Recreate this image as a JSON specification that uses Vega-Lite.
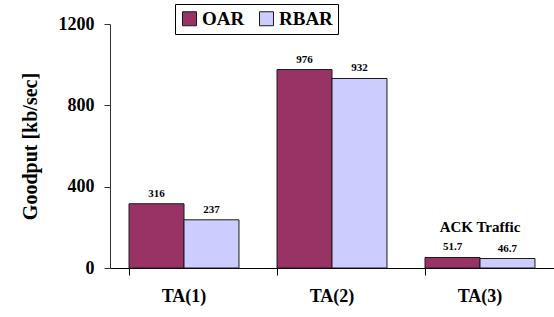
{
  "$schema": "https://vega.github.io/schema/vega-lite/v6.json",
  "autosize": "none",
  "width": 444,
  "height": 244,
  "padding": {"left": 110, "top": 24, "right": 0, "bottom": 49},
  "background": "white",
  "config": {
    "view": {"stroke": null},
    "font": "'Liberation Serif', 'DejaVu Serif', serif"
  },
  "datasets": {
    "bars": [
      {"ta": "TA(1)", "series": "OAR", "value": 316, "label": "316"},
      {"ta": "TA(1)", "series": "RBAR", "value": 237, "label": "237"},
      {"ta": "TA(2)", "series": "OAR", "value": 976, "label": "976"},
      {"ta": "TA(2)", "series": "RBAR", "value": 932, "label": "932"},
      {"ta": "TA(3)", "series": "OAR", "value": 51.7, "label": "51.7"},
      {"ta": "TA(3)", "series": "RBAR", "value": 46.7, "label": "46.7"}
    ],
    "notes": [
      {"ta": "TA(3)", "value": 160, "text": "ACK  Traffic"}
    ]
  },
  "layer": [
    {
      "data": {"name": "bars"},
      "mark": {"type": "bar", "stroke": "#1a1a1a", "strokeWidth": 1},
      "encoding": {
        "x": {
          "field": "ta", "type": "nominal", "sort": null,
          "scale": {"paddingInner": 0.257, "paddingOuter": 0.1285},
          "axis": {
            "title": null, "labelAngle": 0, "bandPosition": 0,
            "labelFont": "'Liberation Serif', 'DejaVu Serif', serif", "labelFontWeight": "bold", "labelFontSize": 18,
            "labelColor": "black", "labelPadding": 12,
            "domainColor": "black", "tickColor": "black", "tickSize": 7
          }
        },
        "xOffset": {"field": "series", "type": "nominal"},
        "y": {
          "field": "value", "type": "quantitative",
          "scale": {"domain": [0, 1200], "nice": false},
          "axis": {
            "title": "Goodput [kb/sec]", "values": [0, 400, 800, 1200], "grid": false, "format": "d",
            "labelFont": "'Liberation Serif', 'DejaVu Serif', serif", "labelFontWeight": "bold", "labelFontSize": 18,
            "labelColor": "black", "labelPadding": 10,
            "titleFont": "'Liberation Serif', 'DejaVu Serif', serif", "titleFontWeight": "bold", "titleFontSize": 20,
            "titleColor": "black", "titlePadding": 18,
            "domainColor": "#333", "tickColor": "#333", "tickSize": 6
          }
        },
        "color": {
          "field": "series", "type": "nominal",
          "scale": {"domain": ["OAR", "RBAR"], "range": ["#993366", "#CCCCFF"]},
          "legend": {
            "title": null, "orient": "none", "legendX": 65, "legendY": -20,
            "direction": "horizontal", "strokeColor": "black", "padding": 5,
            "symbolType": "square", "symbolSize": 196, "symbolStrokeColor": "#1a1a1a",
            "symbolStrokeWidth": 1, "symbolOpacity": 1,
            "labelFont": "'Liberation Serif', 'DejaVu Serif', serif", "labelFontWeight": "bold", "labelFontSize": 19,
            "labelColor": "black", "columnPadding": 12, "labelOffset": 3
          }
        }
      }
    },
    {
      "data": {"name": "bars"},
      "mark": {"type": "text", "baseline": "bottom", "dy": -5, "font": "'Liberation Serif', 'DejaVu Serif', serif", "fontWeight": "bold", "fontSize": 11, "color": "black"},
      "encoding": {
        "x": {"field": "ta", "type": "nominal", "sort": null},
        "xOffset": {"field": "series", "type": "nominal"},
        "y": {"field": "value", "type": "quantitative"},
        "text": {"field": "label"}
      }
    },
    {
      "data": {"name": "notes"},
      "mark": {"type": "text", "baseline": "bottom", "font": "'Liberation Serif', 'DejaVu Serif', serif", "fontWeight": "bold", "fontSize": 15, "color": "black"},
      "encoding": {
        "x": {"field": "ta", "type": "nominal", "sort": null},
        "y": {"field": "value", "type": "quantitative"},
        "text": {"field": "text"}
      }
    }
  ]
}
